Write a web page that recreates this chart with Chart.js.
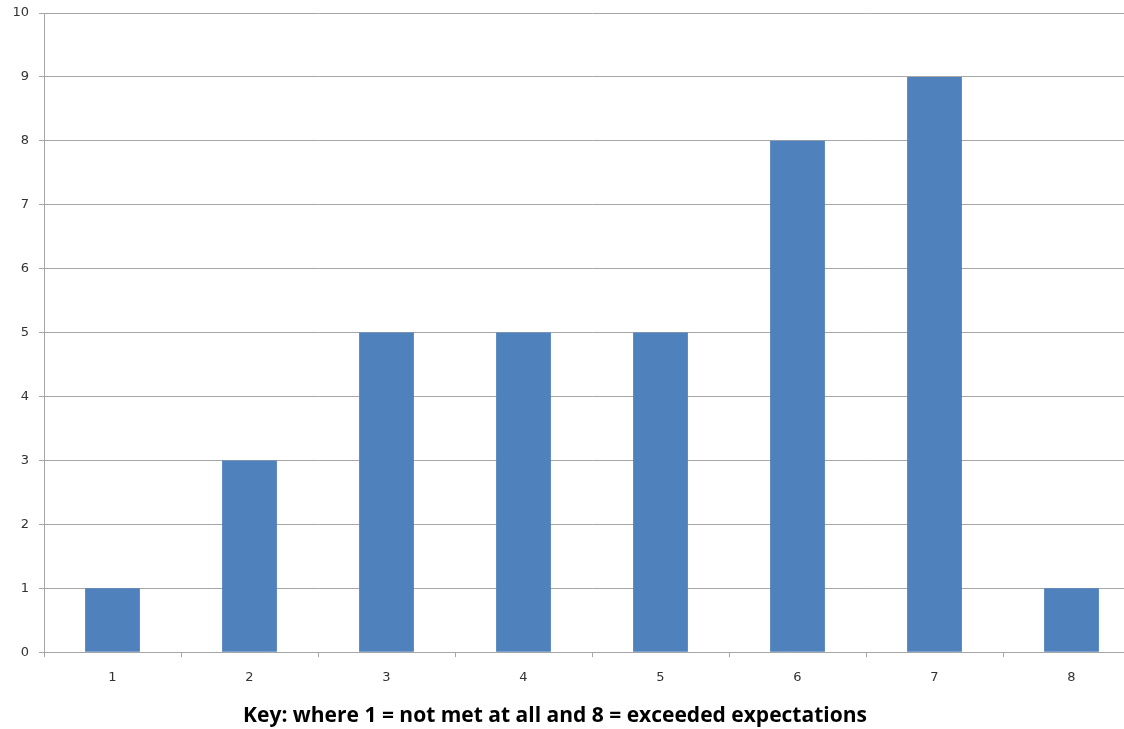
<!DOCTYPE html>
<html>
<head>
<meta charset="utf-8">
<script src="https://cdn.jsdelivr.net/npm/chart.js@4"></script>
<style>
  html,body{margin:0;padding:0;background:#fff;overflow:hidden;}
  .wrap{position:relative;width:1140px;height:729px;}
</style>
</head>
<body>
<div class="wrap"><canvas id="c"></canvas></div>
<script>
const categories = ['1','2','3','4','5','6','7','8'];
const counts = [1, 3, 5, 5, 5, 8, 9, 1];
const keyText = 'Key: where 1 = not met at all and 8 = exceeded expectations';

const axisFont = {family:'DejaVu Sans', size:13};
const gridGrey = '#a6a6a6';

// the plot runs a little past the right edge of the picture, so the canvas is wider
// than the window; the negative left padding keeps the key text centred like the original
new Chart(document.getElementById('c'), {
  type:'bar',
  data:{ labels:categories, datasets:[{data:counts, backgroundColor:'#4f81bd', barPercentage:0.4, categoryPercentage:1}] },
  options:{
    responsive:true, maintainAspectRatio:false, animation:false,
    layout:{padding:{top:13, left:-30, right:0, bottom:0}},
    plugins:{
      legend:{display:false}, tooltip:{enabled:false},
      title:{display:true, position:'bottom', text:keyText, color:'#000',
        font:{family:'Open Sans', size:21, weight:'bold'}, padding:{top:5, bottom:0}}
    },
    scales:{
      x:{
        grid:{offset:true, drawOnChartArea:false, drawTicks:true, tickLength:5, color:gridGrey},
        border:{color:gridGrey},
        ticks:{color:'#333', font:axisFont, padding:13}
      },
      y:{
        min:0, max:10,
        grid:{color:gridGrey, tickLength:5},
        border:{color:gridGrey},
        ticks:{stepSize:1, color:'#333', font:axisFont, padding:10},
        afterFit(s){ s.width = 74; s.paddingTop = 0; s.paddingBottom = 0; }
      }
    }
  }
});
</script>
</body>
</html>
